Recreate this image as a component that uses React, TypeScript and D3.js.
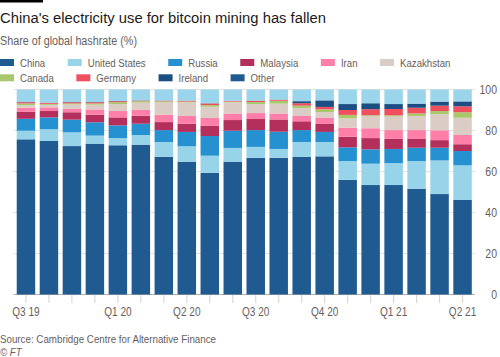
import React from 'react';
import * as d3 from 'd3';

const months = ["2019-09","2019-10","2019-11","2019-12","2020-01","2020-02","2020-03","2020-04","2020-05","2020-06","2020-07","2020-08","2020-09","2020-10","2020-11","2020-12","2021-01","2021-02","2021-03","2021-04"];
const tickLabels = ["Q3 19","","","","Q1 20","","","Q2 20","","","Q3 20","","","Q4 20","","","Q1 21","","","Q2 21"];
const yTicks = [0, 20, 40, 60, 80, 100];

const seriesNames = ["China","United States","Russia","Malaysia","Iran","Kazakhstan","Canada","Germany","Ireland","Other"];

const china        = [75.7,74.9,72.4,73.6,72.8,73.1,67.2,64.8,59.4,64.8,66.7,66.7,67.1,67.4,55.9,53.4,53.4,51.6,49.0,46.1];
const unitedStates = [4.2,5.7,6.7,3.9,3.5,4.7,7.2,7.5,8.3,6.7,5.3,4.3,7.3,7.0,9.2,10.4,10.7,13.5,16.4,16.9];
const russia       = [5.8,5.8,6.2,6.5,6.2,5.5,5.8,7.0,9.6,8.4,8.2,8.4,5.8,4.9,6.7,7.0,6.9,6.5,6.2,7.0];
const malaysia     = [3.4,3.1,3.6,3.7,3.9,3.9,3.9,4.0,5.1,5.2,5.4,6.0,4.3,3.9,5.2,5.5,4.9,4.5,3.7,3.3];
const iran         = [2.0,1.8,1.6,2.6,3.1,2.8,3.6,3.8,3.7,3.2,2.9,2.9,2.6,2.9,4.4,4.8,4.3,4.1,4.8,4.5];
const kazakhstan   = [1.2,1.2,2.2,2.3,3.4,3.6,6.0,6.6,5.5,5.4,4.4,4.8,3.9,2.9,4.5,6.0,6.6,6.9,7.8,8.4];
const canada       = [0.9,0.5,0.5,0.6,0.9,0.7,0.5,0.4,0.8,0.4,1.0,1.4,1.1,1.3,1.7,0.4,0.6,1.2,1.6,2.7];
const germany      = [0.6,0.5,0.6,0.6,0.5,0.3,0.3,0.4,0.8,0.3,0.6,0.5,1.2,1.2,2.4,2.9,3.1,2.8,2.6,2.9];
const ireland      = [0.1,0.1,0.1,0.1,0.1,0.1,0.1,0.1,0.1,0.1,0.1,0.1,1.0,3.2,2.9,2.9,2.4,2.0,2.0,2.4];
const other        = [6.1,6.4,6.1,6.1,5.6,5.3,5.4,5.4,6.7,5.5,5.4,4.9,5.7,5.3,7.1,6.7,7.1,6.9,5.9,5.8];

const seriesValues = [china, unitedStates, russia, malaysia, iran, kazakhstan, canada, germany, ireland, other];

const barColors = ["#1f5a91","#97d4ea","#2591d1","#b42f5c","#ff7fa8","#dbcdc6","#a7c96c","#f0505d","#1c4e84","#9bd5eb"];
const legendColors = ["#1f5a91","#97d4ea","#2591d1","#b42f5c","#ff7fa8","#dbcdc6","#a7c96c","#f0505d","#1c4e84","#1f5a91"];

const FONT = "'Liberation Sans', Arial, sans-serif";
const SX = 0.84;

function measure(text: string, font: string) {
  const c = document.createElement('canvas');
  const ctx = c.getContext('2d')!;
  ctx.font = font;
  return ctx.measureText(text).width;
}

function T(props: any) {
  const { x, y, sx = SX, children, ...rest } = props;
  return <text transform={`translate(${x},${y}) scale(${sx},1)`} {...rest}>{children}</text>;
}

export default function App() {
  const W = 500, H = 357;
  const x = d3.scaleBand<string>().domain(months).range([13.5, 475]).paddingInner(0.196).paddingOuter(0.14);
  const y = d3.scaleLinear().domain([0, 100]).range([294.5, 89.5]);

  const rows = months.map((m, i) => {
    const r: any = { month: m };
    seriesNames.forEach((s, k) => { r[s] = seriesValues[k][i]; });
    return r;
  });
  const stacked = d3.stack<any>().keys(seriesNames)(rows);

  const legendSize = 11.5;
  const legendFont = `${legendSize}px "Liberation Sans", Arial, sans-serif`;
  const legendItems: { name: string; color: string; x: number; y: number }[] = [];
  let lx = 0, ly = 62.5;
  seriesNames.forEach((name, i) => {
    const tw = measure(name, legendFont) * SX;
    if (lx + 20 + tw > W - 10) { lx = 0; ly += 15.3; }
    legendItems.push({ name, color: legendColors[i], x: lx, y: ly });
    lx += 20 + tw + 22.5;
  });

  return (
    <svg width={W} height={H} style={{ position: 'absolute', left: 0, top: 0, background: '#fff' }} fontFamily={FONT}>
      <rect x={0} y={0} width={43} height={2.5} fill="#000" />
      <text x={0} y={23} fontSize={15.5} fill="#1a1a1a" textLength={326} lengthAdjust="spacingAndGlyphs">China's electricity use for bitcoin mining has fallen</text>
      <text x={0} y={45} fontSize={12.5} fill="#66605c" textLength={137} lengthAdjust="spacingAndGlyphs">Share of global hashrate (%)</text>

      {legendItems.map(it => (
        <g key={it.name}>
          <rect x={it.x} y={it.y - 3.5} width={14} height={7} fill={it.color} />
          <T x={it.x + 20} y={it.y} dy="0.35em" fontSize={legendSize} fill="#66605c">{it.name}</T>
        </g>
      ))}

      {yTicks.map(t => (
        <g key={t}>
          <line x1={13.5} x2={475} y1={y(t)} y2={y(t)} stroke={t === 0 ? '#b5aea8' : '#e6e2de'} strokeWidth={1} />
          <T x={497} y={y(t)} dy="0.35em" textAnchor="end" fontSize={12.5} fill="#66605c">{t}</T>
        </g>
      ))}

      {stacked.map((layer, k) => (
        <g key={seriesNames[k]} fill={barColors[k]}>
          {layer.map((d, i) => (
            <rect key={i} x={x(months[i])} width={x.bandwidth()} y={y(d[1])} height={Math.max(0, y(d[0]) - y(d[1]))} />
          ))}
        </g>
      ))}

      {months.map((m, i) => (
        <g key={m}>
          <line x1={x(m)! + x.bandwidth() / 2} x2={x(m)! + x.bandwidth() / 2} y1={295} y2={303} stroke="#d6d1cc" />
          {tickLabels[i] && (
            <T x={x(m)! + x.bandwidth() / 2} y={316} textAnchor="middle" fontSize={12} fill="#66605c">{tickLabels[i]}</T>
          )}
        </g>
      ))}

      <text x={0} y={343} fontSize={11.5} fill="#66605c" textLength={216} lengthAdjust="spacingAndGlyphs">Source: Cambridge Centre for Alternative Finance</text>
      <T x={0} y={355.5} fontSize={11.5} fontStyle="italic" fill="#66605c">© FT</T>
    </svg>
  );
}
